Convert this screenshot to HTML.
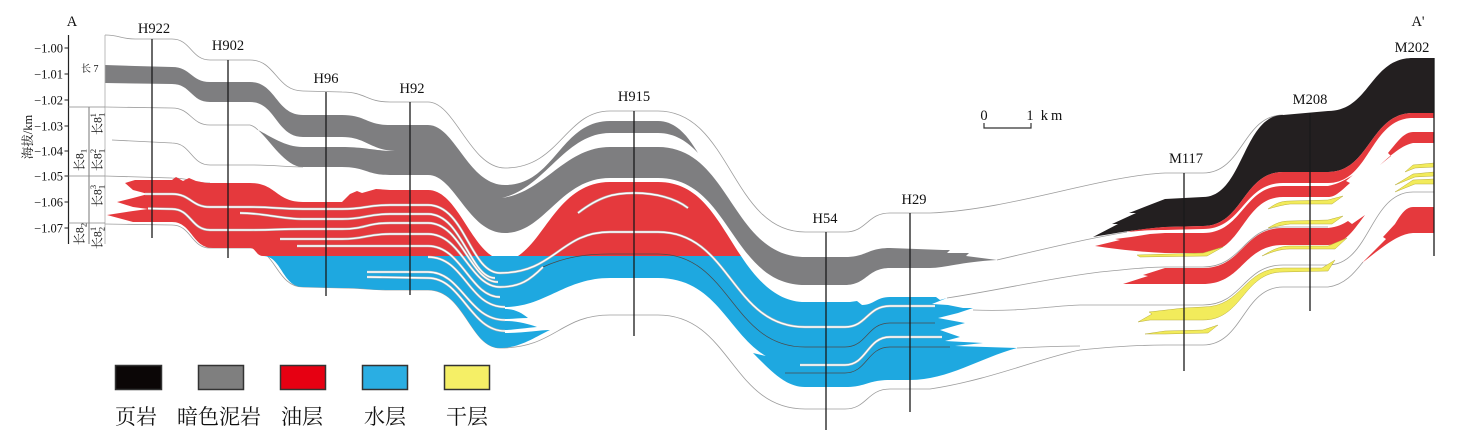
<!DOCTYPE html>
<html><head><meta charset="utf-8"><style>
html,body{margin:0;padding:0;background:#fff;}
svg{display:block;}
.tl{fill:none;stroke:#9c9c9c;stroke-width:0.8;}
.sg{fill:none;stroke:#b4b4b4;stroke-width:2.5;}
.sw{fill:none;stroke:#fff;stroke-width:1.4;}
.dk{fill:none;stroke:#4a4a4a;stroke-width:0.7;}
.well{stroke:#1a1a1a;stroke-width:1.3;}
.lab{font-family:"Liberation Serif",serif;font-size:14.5px;fill:#111;text-anchor:middle;}
.tick{font-family:"Liberation Serif",serif;font-size:12.5px;fill:#111;text-anchor:end;}
.cj{font-family:"Liberation Serif","Noto Serif CJK SC",serif;fill:#111;}
.gray{fill:#7e7e80;}
.red{fill:#e5393d;}
.blue{fill:#1ea8e0;}
.blk{fill:#231f20;}
.yel{fill:#f2eb5b;stroke:#b8ad3c;stroke-width:0.5;}
</style></head><body>
<svg width="1472" height="436" viewBox="0 0 1472 436" xmlns="http://www.w3.org/2000/svg">
<rect width="1472" height="436" fill="#fff"/>

<!-- thin correlation lines -->
<path class="tl" d="M105,35 C120,35 120,39 135,39 L172,39 C191,39 191,60 210,60 L250,60 C276,60 276,91 303,91 L342,92 C366,92 366,102 390,102 L428,102 C455,102 470,168 505,168 C560,168 565,111 610,111 L658,111 C731,111 731,232 805,232 L845,232 C867,232 867,213 890,213 L930,213 C1010,210 1100,176 1165,173 L1203,173 C1243,173 1243,115 1283,115"/>
<path class="tl" d="M105,107 L172,108 C191,108 191,125 210,125 L250,125 C254,126 256,128 258,130"/>
<path class="tl" d="M112,140 L172,143 C191,143 191,165 210,165 L250,165 C276,165 285,167 303,167"/>
<path class="tl" d="M105,176 L172,178 C191,178 191,183 210,183"/>
<path class="tl" d="M105,224 L172,225 C191,225 191,248 210,248 L250,248 C276,248 276,287 303,287 L342,288 C366,288 366,290 390,290 L428,290 C465,290 470,348 500,348 C555,348 560,315 610,315 L658,315 C731,315 731,409 805,409 L845,409 C867,409 867,389 890,389 L930,389 C990,380 1040,358 1080,350 C1120,346 1150,345 1165,345 L1203,345 C1243,345 1243,287 1283,287 L1328,287 C1345,285 1355,272 1363,262"/>
<path class="tl" d="M997,260 C1040,250 1080,240 1127,232"/>
<path class="tl" d="M947,298 C1000,290 1050,278 1100,272 C1130,269 1150,267 1165,267 L1203,267 C1243,267 1243,227 1283,227 L1328,227"/>
<path class="tl" d="M973,310 C1020,312 1050,306 1080,305 L1203,305 C1243,305 1243,265 1283,265 L1328,265 C1370,265 1370,192 1413,192 L1434,192"/>
<path class="tl" d="M1017,348 C1040,347 1060,346 1080,346"/>

<!-- gray dark mudstone -->
<path class="gray" d="M105,65 L135,66 L172,67 C191,67 191,82 210,82 L250,82 C276,82 276,115 303,115 L342,115 C366,115 366,125 390,125 L428,125 C455,125 468,185 505,185 C555,185 560,121 610,121 L658,121 C678,121 690,140 698,153 C688,142 675,133 658,133 L610,133 C565,133 545,188 502,198 C545,192 565,147 610,147 L658,147 C731,147 731,257 805,257 L845,257 C867,257 867,248 890,248 L943,250 L950,250 L947,253 L969,253 L966,256 L997,260 C960,262 945,268 930,268 L890,268 C867,268 867,285 845,285 L805,285 C731,285 731,178 658,178 L610,178 C560,178 545,233 505,233 C468,233 455,175 428,175 L390,175 C366,175 366,167 342,167 L303,167 C285,167 270,140 258,130 C270,136 285,147 303,147 L342,147 C366,147 375,151 395,151 C370,150 366,137 342,137 L303,137 C276,137 276,102 250,102 L210,102 C191,102 191,84 172,84 L105,83 Z"/>

<!-- red left -->
<path class="red" d="M125,183 L135,180 L172,180 L176,177 L183,181 L189,178 L196,181 C202,182 205,183 210,183 L250,183 C276,183 276,202 303,202 L342,202 L350,194 L357,191 L362,193 L376,189 L390,190 L428,190 C455,190 468,240 492,256 L263,256 C256,256 256,248 250,248 L213,248 C192,248 192,222 172,222 L133,222 L107,215 L133,211 L148,209 L133,207 L117,202 L133,198 L148,194 L133,190 Z"/>
<!-- red dome -->
<path class="red" d="M518,256 C546,238 560,182 610,182 L658,182 C700,182 716,218 741,256 Z"/>

<!-- blue -->
<path class="blue" d="M263,256 L741,256 C760,285 780,302 805,302 L850,302 L857,301 L862,305 C874,305 876,297 890,297 L936,297 L940,300 L947,298 L932,304 L948,305 L963,308 L973,308 L958,313 L938,318 L965,323 L940,330 L960,337 L945,341 L983,343 L955,346 L1017,348 C980,358 948,380 910,380 L890,380 C867,380 867,387 845,387 L805,387 C785,387 770,370 753,353 L770,357 L776,356 L784,363 L800,365 C731,365 731,278 658,278 L610,278 C565,278 545,307 505,307 L505,309 C515,309 522,313 528,318 C520,318 512,319 505,319 L505,321 C518,321 528,324 537,327 C525,328 512,330 505,330 L505,333 C525,333 540,330 550,330 C535,337 520,348 500,348 C470,348 465,290 428,290 L390,290 C366,290 366,288 342,288 L303,287 C282,287 282,256 263,256 Z"/>

<!-- white slits -->
<g>
<path class="sg" d="M145,194 L172,194 C191,194 191,207 210,207 L250,207 C276,207 276,209 303,209 L342,209 C366,209 366,205 390,205 L428,205 C465,205 470,273 500,273 C555,273 560,232 610,232 L658,232 C731,232 731,327 805,327 L845,327 C867,327 867,306 890,306 L935,306"/>
<path class="sw" d="M145,194 L172,194 C191,194 191,207 210,207 L250,207 C276,207 276,209 303,209 L342,209 C366,209 366,205 390,205 L428,205 C465,205 470,273 500,273 C555,273 560,232 610,232 L658,232 C731,232 731,327 805,327 L845,327 C867,327 867,306 890,306 L935,306"/>
<path class="sg" d="M148,208.5 L172,209 C191,209 191,230 210,230 L250,230 C276,230 276,229 303,229 L342,229 C366,229 366,223 390,223 L428,223 C462,223 470,282 498,282"/>
<path class="sw" d="M148,208.5 L172,209 C191,209 191,230 210,230 L250,230 C276,230 276,229 303,229 L342,229 C366,229 366,223 390,223 L428,223 C462,223 470,282 498,282"/>
<path class="sg" d="M240,213 C265,213 280,219 303,219 L342,219 C366,219 366,214 390,214 L428,214 C462,214 470,278 495,278"/>
<path class="sw" d="M240,213 C265,213 280,219 303,219 L342,219 C366,219 366,214 390,214 L428,214 C462,214 470,278 495,278"/>
<path class="sg" d="M280,239 L342,239 C366,239 366,234 390,234 L428,234 C462,234 470,287 500,287 C520,287 530,280 543,267"/>
<path class="sw" d="M280,239 L342,239 C366,239 366,234 390,234 L428,234 C462,234 470,287 500,287 C520,287 530,280 543,267"/>
<path class="sg" d="M297,246 L342,246 C366,246 366,246 390,246 L428,246 C462,246 470,297 500,297"/>
<path class="sw" d="M297,246 L342,246 C366,246 366,246 390,246 L428,246 C462,246 470,297 500,297"/>
<path class="sg" d="M428,257 C465,257 468,307 505,307"/>
<path class="sw" d="M428,257 C465,257 468,307 505,307"/>
<path class="sg" d="M367,272 L428,272 C462,272 468,320 505,320"/>
<path class="sw" d="M367,272 L428,272 C462,272 468,320 505,320"/>
<path class="sg" d="M367,277 L428,278 C462,278 470,331 505,331"/>
<path class="sw" d="M367,277 L428,278 C462,278 470,331 505,331"/>
<path class="sg" d="M578,213 C600,196 615,193 634,193 C655,193 675,198 688,208"/>
<path class="sw" d="M578,213 C600,196 615,193 634,193 C655,193 675,198 688,208"/>
<path class="sg" d="M800,365 L845,365 C867,365 867,337 890,337 L942,337"/>
<path class="sw" d="M800,365 L845,365 C867,365 867,337 890,337 L942,337"/>
<path class="dk" d="M543,267 C565,257 585,254 610,254 L658,254 C731,254 731,347 805,347 L845,347 C867,347 867,323 890,323 L935,323"/>
<path class="dk" d="M785,373 L845,373 C867,373 867,347 890,347 L950,347"/>
</g>

<!-- right side: black shale, red, yellow -->
<path class="blk" d="M1093,237 L1118,224 L1112,224 L1136,213 L1129,213 L1152,204 L1165,199 L1184,198 L1203,197 C1243,197 1243,115 1283,115 L1328,111 C1370,111 1370,58 1413,58 L1434,58 L1434,113 L1413,113 C1370,113 1370,172 1328,172 L1283,172 C1243,172 1243,226 1203,226 L1165,227 C1140,229 1115,233 1093,237 Z"/>
<path class="red" d="M1127,232 C1145,230 1160,230 1165,230 L1203,229 C1243,229 1243,183 1283,183 L1328,183 C1370,183 1370,118 1413,118 L1434,118 L1434,113 L1413,113 C1370,113 1370,172 1328,172 L1283,172 C1243,172 1243,226 1203,226 L1165,227 C1150,228 1135,230 1127,232 Z"/>
<path class="red" d="M1095,246 L1120,240 L1115,239 L1131,237 L1150,234 L1165,233 L1203,233 C1243,233 1243,186 1283,186 L1328,186 C1338,184 1345,180 1353,175 L1346,181 L1350,183 C1340,192 1335,197 1328,197 L1283,197 C1243,197 1243,253 1203,253 L1165,253 C1140,252 1115,249 1095,246 Z"/>
<path class="red" d="M1123,284 L1148,276 L1143,275 L1165,268 L1203,268 C1243,268 1243,228 1283,228 L1328,228 C1338,227 1343,224 1348,221 L1352,224 L1365,215 C1355,228 1345,245 1328,245 L1283,245 C1243,245 1243,284 1203,284 L1165,284 Z"/>
<path class="red" d="M1380,165 L1391,156 L1388,153 C1397,142 1404,132 1413,132 L1434,132 L1434,143 L1413,143 C1403,145 1393,153 1380,165 Z"/>
<path class="red" d="M1362,263 L1386,239 L1383,237 L1395,224 C1401,214 1406,207 1413,207 L1434,207 L1434,233 L1413,233 C1398,234 1385,245 1362,263 Z"/>
<path class="yel" d="M1137,255 L1203,253 L1223,247 L1207,256 L1140,257 Z"/>
<path class="yel" d="M1268,209 C1275,204 1280,201 1290,201 L1328,200 L1343,196 L1332,204 L1290,204 C1282,205 1275,207 1268,209 Z"/>
<path class="yel" d="M1268,228 C1275,224 1280,221 1290,221 L1328,220 L1343,216 L1332,224 L1290,224 C1282,225 1275,227 1268,228 Z"/>
<path class="yel" d="M1262,256 C1272,250 1280,246 1290,246 L1328,246 L1347,238 L1335,249 L1290,249 C1280,249 1272,252 1262,256 Z"/>
<path class="yel" d="M1138,322 L1152,314 L1149,312 L1184,308 L1203,307 C1243,307 1243,268 1283,268 L1322,268 L1335,260 L1328,271 L1283,272 C1243,272 1243,320 1203,320 L1150,320 Z"/>
<path class="yel" d="M1145,334 L1165,331 L1203,330 L1218,325 L1208,333 L1165,334 Z"/>
<path class="yel" d="M1405,172 L1413,165 L1434,163 L1434,167 L1415,168 Z"/>
<path class="yel" d="M1395,185 L1413,174 L1434,172 L1434,176 L1415,177 Z"/>
<path class="yel" d="M1395,192 L1413,180 L1434,179 L1434,184 L1415,184 Z"/>

<!-- wells -->
<line class="well" x1="152" y1="39" x2="152" y2="238"/>
<line class="well" x1="228" y1="60" x2="228" y2="258"/>
<line class="well" x1="326" y1="92" x2="326" y2="296"/>
<line class="well" x1="410" y1="102" x2="410" y2="295"/>
<line class="well" x1="634" y1="111" x2="634" y2="336"/>
<line class="well" x1="826" y1="232" x2="826" y2="430"/>
<line class="well" x1="910" y1="213" x2="910" y2="412"/>
<line class="well" x1="1184" y1="173" x2="1184" y2="371"/>
<line class="well" x1="1310" y1="113" x2="1310" y2="311"/>
<line class="well" x1="1434" y1="58" x2="1434" y2="256"/>

<!-- well labels -->
<text class="lab" x="154" y="33">H922</text>
<text class="lab" x="228" y="50">H902</text>
<text class="lab" x="326" y="83">H96</text>
<text class="lab" x="412" y="93">H92</text>
<text class="lab" x="634" y="101">H915</text>
<text class="lab" x="825" y="223">H54</text>
<text class="lab" x="914" y="204">H29</text>
<text class="lab" x="1186" y="163">M117</text>
<text class="lab" x="1310" y="104">M208</text>
<text class="lab" x="1412" y="52">M202</text>
<text class="lab" x="72" y="26">A</text>
<text class="lab" x="1418" y="26">A'</text>

<!-- axis & stratigraphic columns -->
<line x1="68.5" y1="35" x2="68.5" y2="244" stroke="#222" stroke-width="1.2"/>
<line x1="89" y1="107" x2="89" y2="244" stroke="#555" stroke-width="0.8"/>
<line x1="105" y1="35" x2="105" y2="244" stroke="#aaa" stroke-width="0.8"/>
<line x1="68.5" y1="107" x2="105" y2="107" stroke="#888" stroke-width="0.8"/>
<line x1="68.5" y1="176" x2="105" y2="176" stroke="#888" stroke-width="0.8"/>
<line x1="68.5" y1="223" x2="105" y2="223" stroke="#888" stroke-width="0.8"/>
<g stroke="#222" stroke-width="1">
<line x1="64.5" y1="48" x2="68.5" y2="48"/>
<line x1="64.5" y1="74" x2="68.5" y2="74"/>
<line x1="64.5" y1="100" x2="68.5" y2="100"/>
<line x1="64.5" y1="126" x2="68.5" y2="126"/>
<line x1="64.5" y1="151" x2="68.5" y2="151"/>
<line x1="64.5" y1="176" x2="68.5" y2="176"/>
<line x1="64.5" y1="202" x2="68.5" y2="202"/>
<line x1="64.5" y1="228" x2="68.5" y2="228"/>
</g>
<text class="tick" x="63" y="52.5">−1.00</text>
<text class="tick" x="63" y="78.5">−1.01</text>
<text class="tick" x="63" y="104.5">−1.02</text>
<text class="tick" x="63" y="130.5">−1.03</text>
<text class="tick" x="63" y="155.5">−1.04</text>
<text class="tick" x="63" y="180.5">−1.05</text>
<text class="tick" x="63" y="206.5">−1.06</text>
<text class="tick" x="63" y="232.5">−1.07</text>
<text class="cj" font-size="12.5" text-anchor="middle" transform="translate(32,137) rotate(-90)">海拔/km</text>
<text class="cj" font-size="10" x="81" y="72">长 7</text>
<text class="cj" font-size="12" text-anchor="middle" transform="translate(83.5,160) rotate(-90)">长8<tspan font-size="8.5" dy="3">1</tspan></text>
<text class="cj" font-size="12" text-anchor="middle" transform="translate(83.5,234) rotate(-90)">长8<tspan font-size="8.5" dy="3">2</tspan></text>
<text class="cj" font-size="12" text-anchor="middle" transform="translate(101.5,124) rotate(-90)">长8<tspan font-size="8.5" dy="3">1</tspan><tspan font-size="8.5" dx="-4.3" dy="-8.5">1</tspan></text>
<text class="cj" font-size="12" text-anchor="middle" transform="translate(101.5,160) rotate(-90)">长8<tspan font-size="8.5" dy="3">1</tspan><tspan font-size="8.5" dx="-4.3" dy="-8.5">2</tspan></text>
<text class="cj" font-size="12" text-anchor="middle" transform="translate(101.5,196) rotate(-90)">长8<tspan font-size="8.5" dy="3">1</tspan><tspan font-size="8.5" dx="-4.3" dy="-8.5">3</tspan></text>
<text class="cj" font-size="12" text-anchor="middle" transform="translate(101.5,238) rotate(-90)">长8<tspan font-size="8.5" dy="3">2</tspan><tspan font-size="8.5" dx="-4.3" dy="-8.5">1</tspan></text>

<!-- scale bar -->
<text class="lab" x="984" y="120" font-size="14">0</text>
<text class="lab" x="1030" y="120" font-size="14">1</text>
<text class="lab" x="1053" y="120" font-size="14" letter-spacing="3">km</text>
<path d="M984,123 L984,128 L1031,128 L1031,123" fill="none" stroke="#333" stroke-width="1.2"/>

<!-- legend -->
<rect x="115.5" y="365.5" width="46" height="24" fill="#0b0606" stroke="#333" stroke-width="1.5"/>
<rect x="198.5" y="365.5" width="45" height="24" fill="#7f7f7f" stroke="#333" stroke-width="1.5"/>
<rect x="280.5" y="365.5" width="45" height="24" fill="#e60012" stroke="#333" stroke-width="1.5"/>
<rect x="362.5" y="365.5" width="45" height="24" fill="#2aaee3" stroke="#333" stroke-width="1.5"/>
<rect x="444.5" y="365.5" width="45" height="24" fill="#f5ef66" stroke="#333" stroke-width="1.5"/>
<g class="cj" font-size="21" text-anchor="middle">
<text x="136" y="424">页岩</text>
<text x="219" y="424">暗色泥岩</text>
<text x="302" y="424">油层</text>
<text x="385" y="424">水层</text>
<text x="467" y="424">干层</text>
</g>
</svg>
</body></html>
